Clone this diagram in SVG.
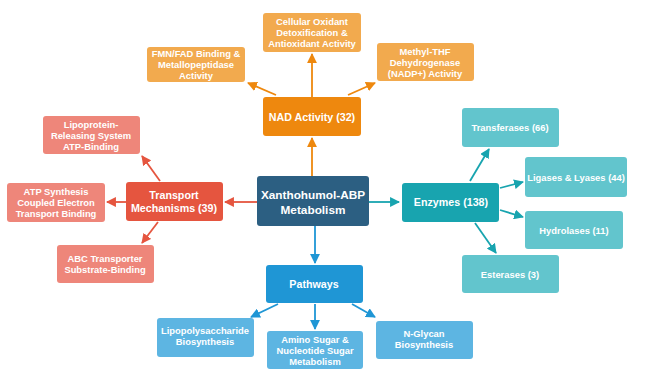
<svg xmlns="http://www.w3.org/2000/svg" width="646" height="369" viewBox="0 0 646 369">
<defs>
<style>
text{font-family:"Liberation Sans",Arial,sans-serif;font-weight:bold;fill:#fff;text-anchor:middle}
.s{font-size:9.4px}
.m{font-size:10.7px}
.c{font-size:11.8px}
rect{rx:3px;ry:3px}
.lo{fill:#F2AA4E}.do{fill:#EE880E}
.lr{fill:#EE867A}.dr{fill:#E5553F}
.lt{fill:#62C5CD}.dt{fill:#18A4AF}
.lb{fill:#5DB5E2}.db{fill:#1F96D5}
.ce{fill:#2C5F82}
.ao{stroke:#EE880E}.ar{stroke:#E5553F}.at{stroke:#18A4AF}.ab{stroke:#1F96D5}
#connectors line{stroke-width:1.8;fill:none}
</style>
<marker id="mo" viewBox="0 0 10 10" refX="9" refY="5" markerWidth="5.5" markerHeight="5.5" orient="auto"><path d="M0,0L10,5L0,10z" fill="#EE880E"/></marker>
<marker id="mr" viewBox="0 0 10 10" refX="9" refY="5" markerWidth="5.5" markerHeight="5.5" orient="auto"><path d="M0,0L10,5L0,10z" fill="#E5553F"/></marker>
<marker id="mt" viewBox="0 0 10 10" refX="9" refY="5" markerWidth="5.5" markerHeight="5.5" orient="auto"><path d="M0,0L10,5L0,10z" fill="#18A4AF"/></marker>
<marker id="mb" viewBox="0 0 10 10" refX="9" refY="5" markerWidth="5.5" markerHeight="5.5" orient="auto"><path d="M0,0L10,5L0,10z" fill="#1F96D5"/></marker>
</defs>
<rect x="0" y="0" width="646" height="369" fill="#fff" rx="0" ry="0"/>
<g id="connectors">
<line class="ao" x1="312" y1="176" x2="312" y2="138" marker-end="url(#mo)"/>
<line class="ao" x1="312" y1="97" x2="312" y2="54" marker-end="url(#mo)"/>
<line class="ao" x1="276" y1="95" x2="248" y2="83" marker-end="url(#mo)"/>
<line class="ao" x1="348" y1="95" x2="375" y2="83" marker-end="url(#mo)"/>
<line class="ar" x1="257" y1="202" x2="225" y2="202" marker-end="url(#mr)"/>
<line class="ar" x1="126" y1="202" x2="107" y2="202" marker-end="url(#mr)"/>
<line class="ar" x1="160" y1="181" x2="142" y2="156" marker-end="url(#mr)"/>
<line class="ar" x1="158" y1="222" x2="142" y2="243" marker-end="url(#mr)"/>
<line class="at" x1="369" y1="202" x2="399" y2="202" marker-end="url(#mt)"/>
<line class="at" x1="470" y1="181" x2="489" y2="149" marker-end="url(#mt)"/>
<line class="at" x1="500" y1="188" x2="523" y2="182" marker-end="url(#mt)"/>
<line class="at" x1="500" y1="210" x2="523" y2="217" marker-end="url(#mt)"/>
<line class="at" x1="475" y1="223" x2="496" y2="253" marker-end="url(#mt)"/>
<line class="ab" x1="315" y1="226" x2="315" y2="263" marker-end="url(#mb)"/>
<line class="ab" x1="278" y1="304" x2="251" y2="317" marker-end="url(#mb)"/>
<line class="ab" x1="315" y1="304" x2="315" y2="329" marker-end="url(#mb)"/>
<line class="ab" x1="352" y1="304" x2="375" y2="317" marker-end="url(#mb)"/>
</g>
<g id="central"><rect class="ce" x="257" y="176" width="112" height="50"/><text class="c" x="313" y="199">Xanthohumol-ABP</text><text class="c" x="313" y="214">Metabolism</text></g>
<g id="nad"><rect class="do" x="263" y="97" width="98" height="39"/><text class="m" x="312" y="121">NAD Activity (32)</text></g>
<g id="cellular"><rect class="lo" x="263" y="13" width="98" height="39"/><text class="s" x="312" y="25">Cellular Oxidant</text><text class="s" x="312" y="36">Detoxification &amp;</text><text class="s" x="312" y="47">Antioxidant Activity</text></g>
<g id="fmn"><rect class="lo" x="147" y="47" width="98" height="35"/><text class="s" x="196" y="57">FMN/FAD Binding &amp;</text><text class="s" x="196" y="68">Metallopeptidase</text><text class="s" x="196" y="79">Activity</text></g>
<g id="methyl"><rect class="lo" x="377" y="43" width="97" height="38"/><text class="s" x="425" y="55">Methyl-THF</text><text class="s" x="425" y="66">Dehydrogenase</text><text class="s" x="425" y="77">(NADP+) Activity</text></g>
<g id="transport"><rect class="dr" x="126" y="182" width="97" height="39"/><text class="m" x="174" y="199">Transport</text><text class="m" x="174" y="212">Mechanisms (39)</text></g>
<g id="lipoprotein"><rect class="lr" x="43" y="116" width="97" height="38"/><text class="s" x="91" y="128">Lipoprotein-</text><text class="s" x="91" y="139">Releasing System</text><text class="s" x="91" y="150">ATP-Binding</text></g>
<g id="atp"><rect class="lr" x="7" y="183" width="98" height="39"/><text class="s" x="56" y="195">ATP Synthesis</text><text class="s" x="56" y="206">Coupled Electron</text><text class="s" x="56" y="217">Transport Binding</text></g>
<g id="abc"><rect class="lr" x="57" y="245" width="97" height="38"/><text class="s" x="105" y="262">ABC Transporter</text><text class="s" x="105" y="273">Substrate-Binding</text></g>
<g id="enzymes"><rect class="dt" x="402" y="183" width="97" height="39"/><text class="m" x="451" y="206">Enzymes (138)</text></g>
<g id="transferases"><rect class="lt" x="462" y="108" width="97" height="39"/><text class="s" x="510" y="131">Transferases (66)</text></g>
<g id="ligases"><rect class="lt" x="525" y="157" width="102" height="40"/><text class="s" x="576" y="181">Ligases &amp; Lyases (44)</text></g>
<g id="hydrolases"><rect class="lt" x="525" y="211" width="98" height="38"/><text class="s" x="574" y="234">Hydrolases (11)</text></g>
<g id="esterases"><rect class="lt" x="462" y="255" width="97" height="38"/><text class="s" x="510" y="278">Esterases (3)</text></g>
<g id="pathways"><rect class="db" x="266" y="265" width="97" height="38"/><text class="m" x="314" y="288">Pathways</text></g>
<g id="lipopoly"><rect class="lb" x="157" y="318" width="97" height="39"/><text class="s" x="205" y="334">Lipopolysaccharide</text><text class="s" x="205" y="345">Biosynthesis</text></g>
<g id="amino"><rect class="lb" x="267" y="331" width="96" height="38"/><text class="s" x="315" y="343">Amino Sugar &amp;</text><text class="s" x="315" y="354">Nucleotide Sugar</text><text class="s" x="315" y="365">Metabolism</text></g>
<g id="nglycan"><rect class="lb" x="376" y="321" width="97" height="38"/><text class="s" x="424" y="337">N-Glycan</text><text class="s" x="424" y="348">Biosynthesis</text></g>
</svg>
